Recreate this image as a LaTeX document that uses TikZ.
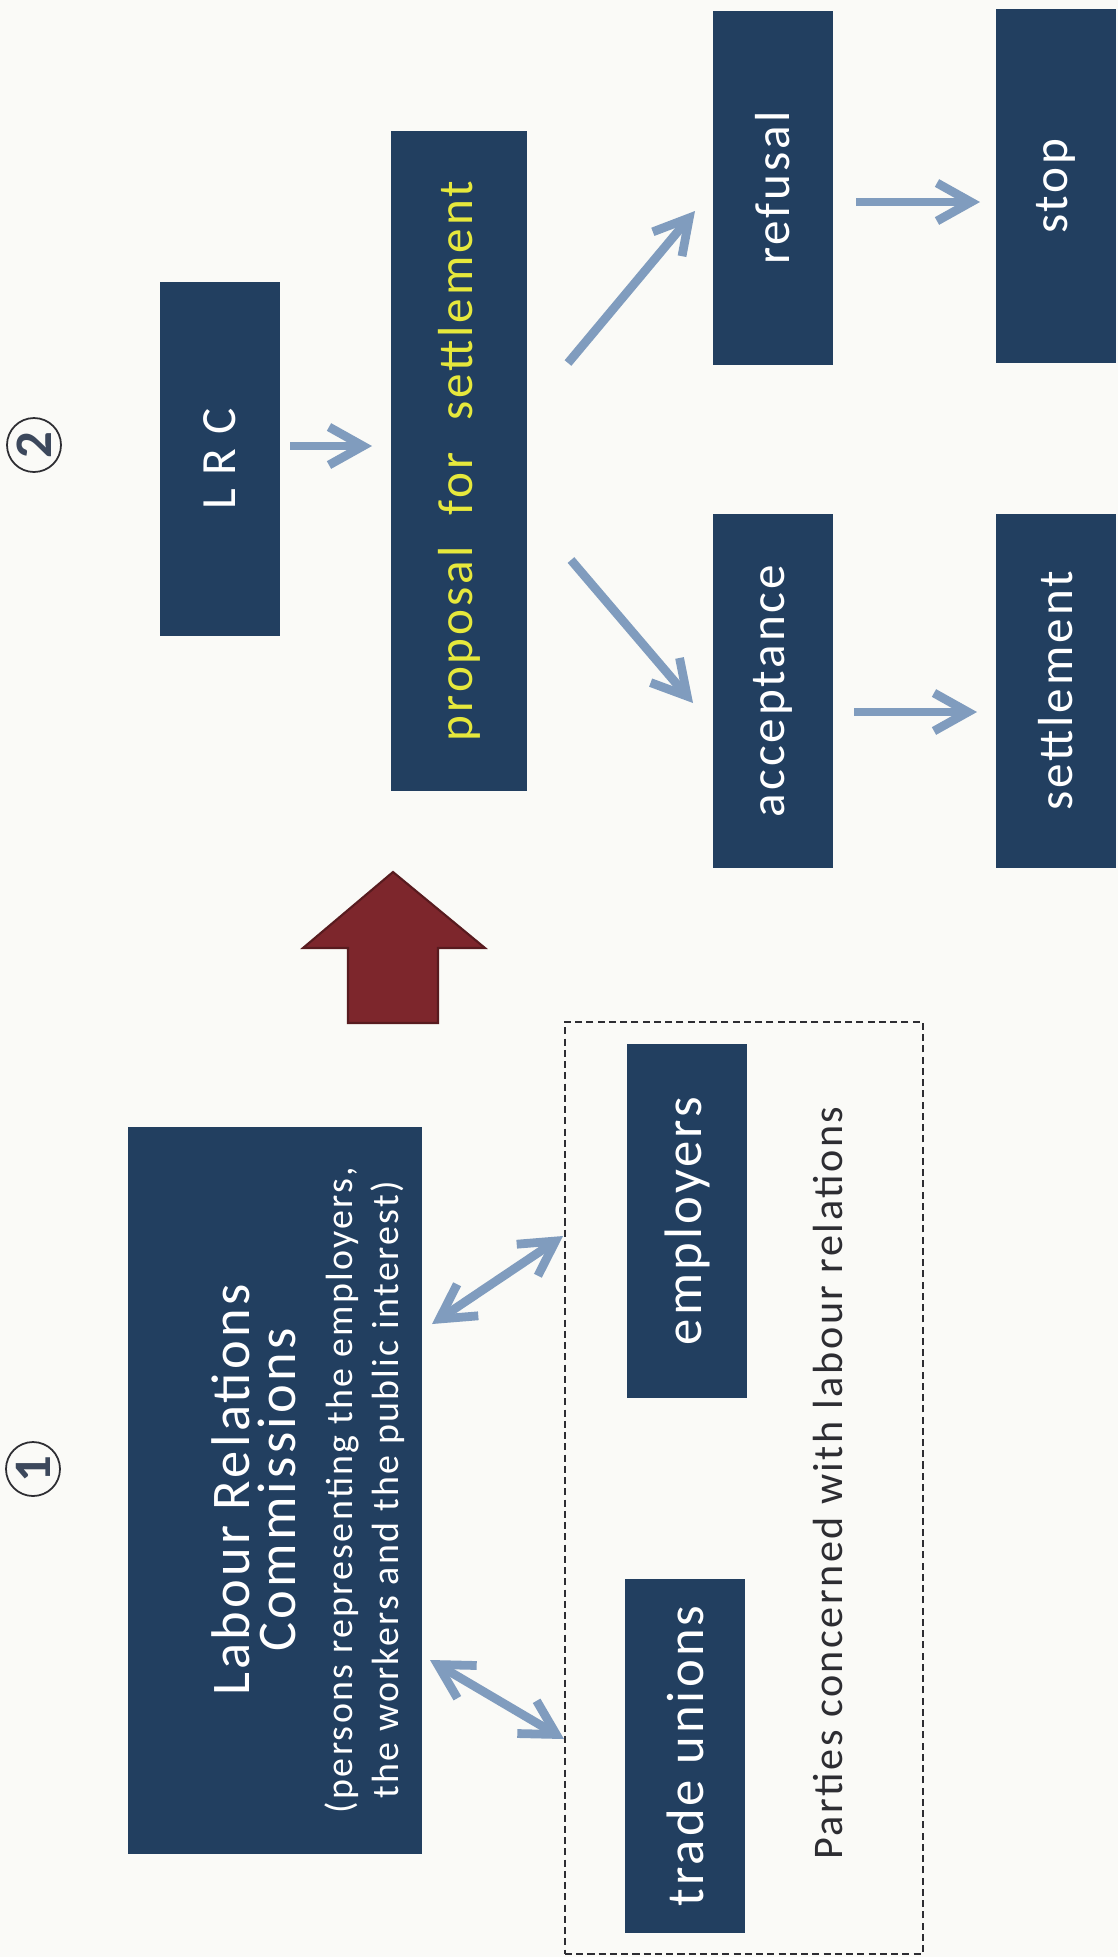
\documentclass[tikz,border=0pt]{standalone}
\usepackage{fontspec}
\setmainfont{Carlito}[LetterSpace=6]
\usetikzlibrary{arrows.meta}

\definecolor{boxblue}{RGB}{34,63,96}
\definecolor{arrowblue}{RGB}{128,156,190}
\definecolor{textyellow}{RGB}{230,232,60}
\definecolor{bigred}{RGB}{125,38,44}
\definecolor{paper}{RGB}{250,250,247}
\definecolor{inkgray}{RGB}{45,45,50}
\definecolor{numgray}{RGB}{60,72,92}

\newcommand{\lrbig}{\fontsize{15.5}{13.1}\selectfont}
\newcommand{\lrsmall}{\fontsize{10.8}{13.1}\selectfont}

\begin{document}
\begin{tikzpicture}[x=0.1mm, y=-0.1mm,
        box/.style={
            fill=boxblue, rotate=90, inner sep=0pt, text=white,
            minimum width=3.54cm, minimum height=1.2cm,
            font=\fontsize{14}{17}\selectfont
        },
        partybox/.style={
            box, font=\fontsize{15}{18}\selectfont
        },
        bigbox/.style={
            fill=boxblue, inner sep=0pt,
            minimum width=2.94cm, minimum height=7.27cm
        },
        frame/.style={
            draw=inkgray, line width=0.65pt, dash pattern=on 2pt off 1.2pt,
            minimum width=3.58cm, minimum height=9.32cm, inner sep=0pt
        },
        numcircle/.style={
            circle, draw=inkgray, line width=0.5pt, minimum size=0.54cm,
            inner sep=0pt, rotate=90, text=numgray,
            font=\fontsize{15}{15}\selectfont\bfseries
        },
        arr/.style={
            draw=arrowblue, line width=2.5pt,
            -{Straight Barb[length=3.4mm, width=3.8mm]}
        },
        darr/.style={
            arr, {Straight Barb[length=3.4mm, width=3.8mm]}-{Straight Barb[length=3.4mm, width=3.8mm]}
        }
    ]
    \fill[paper] (0,0) rectangle (1118,1957);

    % nodes
    \node[numcircle] (two) at (34,445) {2};
    \node[box] (lrc) at (220,459) {L R C};
    \node[box, minimum width=6.6cm, minimum height=1.36cm, text=textyellow] (prop) at (459,461) {proposal\hspace{0.35em} for\hspace{0.35em} settlement};
    \node[box] (refusal) at (773,188) {refusal};
    \node[box] (accept) at (773,691) {acceptance};
    \node[box] (stop) at (1056,186) {stop};
    \node[box] (settle) at (1056,691) {settlement};

    \node[numcircle] (one) at (33,1469) {1};
    \node[bigbox] (lrcom) at (275,1490) {};
    \node[rotate=90, align=center, text=white, inner sep=0pt, font=\lrbig] (lrcomtext) at (308,1490)
        {Labour Relations\\ Commissions\\[3.1pt]
         \lrsmall (persons representing the employers,\\ \lrsmall the workers and the public interest)};
    \node[frame] (parties) at (744,1488) {};
    \node[partybox] (employers) at (687,1221) {employers};
    \node[partybox] (unions) at (685,1756) {trade unions};
    \node[rotate=90, inner sep=0pt, text=inkgray, font=\fontsize{12}{14}\selectfont] (partiestext) at (828,1483)
        {Parties concerned with labour relations};

    \filldraw[fill=bigred, draw=bigred!70!black, line width=0.6pt]
        (348,1023) -- (348,948) -- (303,948) -- (393,872) -- (485,948) -- (438,948) -- (438,1023) -- cycle;

    % arrows
    \draw[arr] ([shift={(70,-13)}]lrc.center) -- ([shift={(-87,-15)}]prop.center);
    \draw[arr] ([shift={(109,-98)}]prop.center) -- ([shift={(-78,23)}]refusal.center);
    \draw[arr] ([shift={(112,99)}]prop.center) -- ([shift={(-80,12)}]accept.center);
    \draw[arr] ([shift={(83,14)}]refusal.center) -- ([shift={(-76,16)}]stop.center);
    \draw[arr] ([shift={(81,21)}]accept.center) -- ([shift={(-79,21)}]settle.center);
    \draw[darr] ([shift={(157,-166)}]lrcom.center) -- ([shift={(-181,-252)}]parties.center);
    \draw[darr] ([shift={(155,170)}]lrcom.center) -- ([shift={(-180,251)}]parties.center);
\end{tikzpicture}
\end{document}
